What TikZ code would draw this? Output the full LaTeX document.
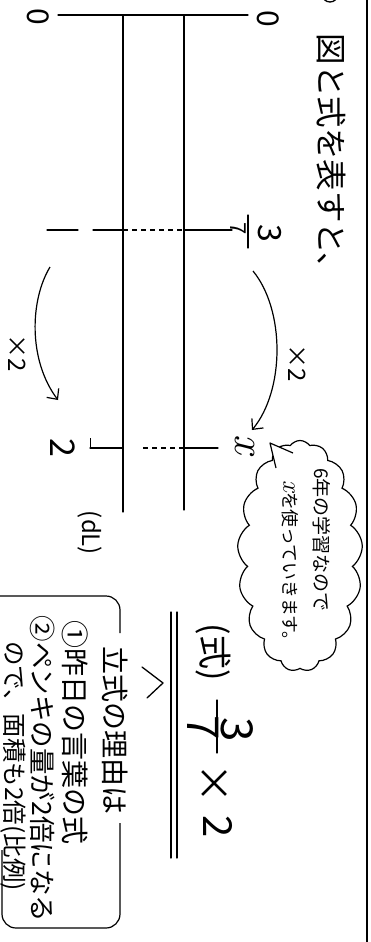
\documentclass[tikz,border=0pt]{standalone}
\usepackage{fontspec}
\newfontfamily\jp{Noto Sans CJK JP}
\usetikzlibrary{arrows.meta,shapes.symbols}
\newcommand\myfs[1]{\fontsize{#1}{#1}\selectfont}
\begin{document}
\begin{tikzpicture}[x=1pt,y=-1pt,
  ln/.style={line width=1.3pt, line cap=round},
  dsh/.style={line width=1.2pt, dash pattern=on 5pt off 4pt},
  lbl/.style={rotate=-90, inner sep=0pt, font=\jp},
  arr/.style={line width=1.2pt, -{Straight Barb[length=8pt,width=15pt,line width=1.2pt]}},
]
\clip (0,0) rectangle (370,942);
\useasboundingbox (0,0) rectangle (370,942);

% frame on the right and cut-off circled number
\coordinate (bt) at (367,0);
\coordinate (bb) at (367,942);
\draw[line width=1.8pt] (bt) -- (bb);
\draw[ln] (330,-6) circle (8);

% title
\node[lbl, font=\jp\myfs{31.5}] (title) at (331,159) {図と式を表すと、};

% zeros and top line
\node[lbl, font=\jp\myfs{30}] (z1) at (38,17) {0};
\node[lbl, font=\jp\myfs{30}] (z2) at (268,19) {0};
\coordinate (tl) at (58,15);
\coordinate (tr) at (248,15);
\draw[ln] (tl) -- (tr);

% two vertical bars
\coordinate (va1) at (123,15);
\coordinate (va2) at (123,512);
\coordinate (vb1) at (184,15);
\coordinate (vb2) at (184,510);
\draw[ln] (va1) -- (va2);
\draw[ln] (vb1) -- (vb2);

% line at 3/7
\coordinate (m1) at (47,230);
\coordinate (m2) at (78,230);
\coordinate (m3) at (93,230);
\coordinate (m4) at (123,230);
\coordinate (m5) at (184,230);
\coordinate (m6) at (232,230);
\draw[ln] (m1) -- (m2);
\draw[ln] (m3) -- (m4);
\draw[dsh] (m4) -- (m5);
\draw[ln] (m5) -- (m6);
\node[lbl, font=\jp\myfs{22}] (f7a) at (238,229) {7};
\coordinate (fb1) at (248,215);
\coordinate (fb2) at (248,248);
\draw[ln] (fb1) -- (fb2);
\node[lbl, font=\jp\myfs{32}] (f3a) at (270,233) {3};

% line at 2 / x
\coordinate (n0) at (90,438);
\coordinate (n1) at (90,448);
\coordinate (n2) at (123,448);
\coordinate (n3) at (143,448);
\coordinate (n4) at (184,448);
\coordinate (n5) at (218,448);
\draw[line width=0.6pt] (n0) -- (n1);
\draw[ln] (n1) -- (n2);
\draw[dsh] (n3) -- (n4);
\draw[ln] (n4) -- (n5);
\node[lbl, font=\jp\myfs{34}] (two) at (63,448) {2};
\node[lbl, font=\itshape\myfs{44}] (xx) at (245,444) {x};

% arrows
\coordinate (la1) at (50,267);
\coordinate (la2) at (58,400);
\draw[arr] (la1) .. controls (30,300) and (28,360) .. (la2);
\node[lbl, font=\jp\myfs{24}] (lx2) at (17,353) {×2};
\coordinate (ra1) at (253,271);
\coordinate (ra2) at (252,430);
\draw[arr] (ra1) .. controls (285,310) and (285,390) .. (ra2);
\node[lbl, font=\jp\myfs{24}] (rx2) at (297,363) {×2};

% unit
\node[lbl, font=\jp\myfs{24}] (dl) at (90,533) {(dL)};

% speech cloud
\node[cloud, draw, line width=1.2pt, cloud puffs=17, cloud puff arc=110,
      cloud ignores aspect, minimum width=125pt, minimum height=231pt,
      inner sep=0pt] (cl) at (300,556) {};
\coordinate (t1) at (293,453);
\coordinate (tip) at (270,443);
\coordinate (t2) at (276,468);
\fill[white] (t1) -- (tip) -- (t2) -- (290,474) -- (300,460) -- cycle;
\draw[line width=1.2pt, line join=round] (t1) -- (tip) -- (t2);
\node[lbl, font=\jp\myfs{19}] (c1) at (322,540) {6年の学習なので};
\node[lbl, font=\jp\myfs{17.8}] (c2) at (290,565) {{\rmfamily\itshape\myfs{26}x}を使っていきます。};

% formula
\node[lbl, font=\jp\myfs{34}] (shiki) at (213,652) {(式)};
\coordinate (d1) at (171,612);
\coordinate (d2) at (171,858);
\coordinate (e1) at (177,612);
\coordinate (e2) at (177,858);
\draw[ln] (d1) -- (d2);
\draw[ln] (e1) -- (e2);
\node[lbl, font=\jp\myfs{44}] (f3b) at (237,730) {3};
\coordinate (gb1) at (217,700);
\coordinate (gb2) at (217,753);
\draw[ln] (gb1) -- (gb2);
\node[lbl, font=\jp\myfs{44}] (f7b) at (203,728) {7};
\node[lbl, font=\jp\myfs{40}] (times) at (213,783) {×};
\node[lbl, font=\jp\myfs{40}] (f2b) at (218,827) {2};

% caret
\coordinate (k1) at (142,667);
\coordinate (k2) at (163,683);
\coordinate (k3) at (147,698);
\draw[ln, line join=round] (k1) -- (k2) -- (k3);

% reason box
\coordinate (b1) at (120,633);
\coordinate (b2) at (120,823);
\draw[line width=1.2pt, rounded corners=14pt] (b1) -- (120,596) -- (0,596);
\draw[line width=1.2pt, rounded corners=14pt] (b2) -- (120,928) -- (2,928) -- (2,850);
\node[lbl, font=\jp\myfs{28}] (r0) at (115,730) {立式の理由は};
\node[lbl, font=\jp\myfs{28}] (r1) at (75,732) {①昨日の言葉の式};
\node[lbl, font=\jp\myfs{26.5}] (r2) at (43,769) {②ペンキの量が2倍になる};
\node[lbl, font=\jp\myfs{24.5}] (r3) at (13,766) {ので、面積も2倍(比例)};
\end{tikzpicture}
\end{document}
